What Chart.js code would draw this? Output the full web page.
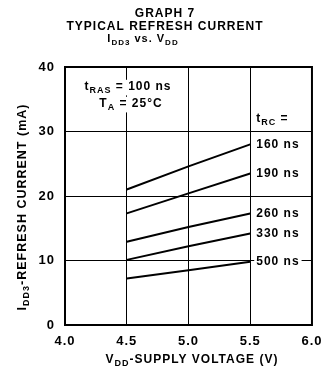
<!DOCTYPE html>
<html>
<head>
<meta charset="utf-8">
<script src="https://cdn.jsdelivr.net/npm/chart.js@4.4.0/dist/chart.umd.min.js"></script>
<style>
  html, body { margin: 0; padding: 0; background: #fff; }
  #wrap { width: 330px; height: 376px; }
</style>
</head>
<body>
<div id="wrap"><canvas id="c"></canvas></div>
<script>
// supply voltage (V)
var voltage = [4.5, 5.0, 5.5];
// refresh current (mA) per tRC
var trcLabels = ['160 ns', '190 ns', '260 ns', '330 ns', '500 ns'];
var i160 = [21.0, 24.6, 28.0];
var i190 = [17.3, 20.4, 23.5];
var i260 = [12.9, 15.2, 17.3];
var i330 = [10.1, 12.2, 14.2];
var i500 = [7.2, 8.5, 9.8];
var series = [i160, i190, i260, i330, i500];

var FONT = '"Liberation Sans", Arial, Helvetica, sans-serif';

// draws text with subscript parts: parts = [[text, isSub], ...]
function richWidth(ctx, parts, size) {
  var w = 0;
  parts.forEach(function (p) {
    ctx.font = 'bold ' + (p[1] ? Math.round(size * 0.72) : size) + 'px ' + FONT;
    w += ctx.measureText(p[0]).width;
  });
  return w;
}
function drawRich(ctx, parts, x, y, align, size) {
  var w = richWidth(ctx, parts, size);
  var sx = align === 'center' ? x - w / 2 : (align === 'right' ? x - w : x);
  ctx.textBaseline = 'middle';
  ctx.textAlign = 'left';
  parts.forEach(function (p) {
    var sz = p[1] ? Math.round(size * 0.72) : size;
    ctx.font = 'bold ' + sz + 'px ' + FONT;
    ctx.fillText(p[0], sx, p[1] ? y + size * 0.3 : y);
    sx += ctx.measureText(p[0]).width;
  });
  return w;
}
function boxed(ctx, parts, x, y, align, size) {
  var w = richWidth(ctx, parts, size);
  var sx = align === 'center' ? x - w / 2 : (align === 'right' ? x - w : x);
  ctx.fillStyle = '#fff';
  ctx.fillRect(sx - 2, y - size * 0.6, w + 4, size * 1.3);
  ctx.fillStyle = '#000';
  drawRich(ctx, parts, x, y, align, size);
}

var decor = {
  id: 'decor',
  beforeDraw: function (chart) {
    chart.ctx.letterSpacing = '1px';
  },
  afterDraw: function (chart) {
    var ctx = chart.ctx, a = chart.chartArea;
    var xs = chart.scales.x, ys = chart.scales.y;
    ctx.save();
    ctx.letterSpacing = '1px';
    // frame
    ctx.strokeStyle = '#000';
    ctx.lineWidth = 2;
    ctx.strokeRect(a.left, a.top, a.right - a.left, a.bottom - a.top);
    ctx.fillStyle = '#000';

    // titles
    drawRich(ctx, [['GRAPH 7', 0]], 165, 14, 'center', 12);
    drawRich(ctx, [['TYPICAL REFRESH CURRENT', 0]], 165, 27, 'center', 12);
    drawRich(ctx, [['I', 0], ['DD3', 1], [' vs. V', 0], ['DD', 1]], 143, 39, 'center', 11);

    // axis titles
    drawRich(ctx, [['V', 0], ['DD', 1], ['-SUPPLY VOLTAGE (V)', 0]], 192, 360, 'center', 12);
    ctx.save();
    ctx.translate(23, 207);
    ctx.rotate(-Math.PI / 2);
    drawRich(ctx, [['I', 0], ['DD3', 1], ['-REFRESH CURRENT (mA)', 0]], 0, 0, 'center', 12.5);
    ctx.restore();

    // conditions
    boxed(ctx, [['t', 0], ['RAS', 1], [' = 100 ns', 0]], 128, 87, 'center', 12);
    boxed(ctx, [['T', 0], ['A', 1], [' = 25\u00b0C', 0]], 131, 104, 'center', 12);

    // tRC labels at line ends
    var lx = xs.getPixelForValue(voltage[voltage.length - 1]) + 6;
    boxed(ctx, [['t', 0], ['RC', 1], [' =', 0]], lx, 119, 'left', 12);
    series.forEach(function (s, i) {
      var py = ys.getPixelForValue(s[s.length - 1]);
      boxed(ctx, [[trcLabels[i], 0]], lx, py, 'left', 12);
    });
    ctx.restore();
  }
};

var datasets = series.map(function (s, i) {
  return {
    label: trcLabels[i],
    data: voltage.map(function (v, j) { return { x: v, y: s[j] }; }),
    borderColor: '#000',
    borderWidth: 2,
    pointRadius: 0,
    fill: false,
    tension: 0
  };
});

new Chart(document.getElementById('c').getContext('2d'), {
  type: 'line',
  data: { datasets: datasets },
  options: {
    responsive: true,
    maintainAspectRatio: false,
    animation: false,
    devicePixelRatio: 1,
    events: [],
    layout: { padding: { top: 67, right: 9, left: 0, bottom: 0 } },
    plugins: { legend: { display: false }, tooltip: { enabled: false } },
    scales: {
      x: {
        type: 'linear',
        min: 4, max: 6,
        afterFit: function (s) { s.height = 51; },
        ticks: {
          stepSize: 0.5,
          color: '#000',
          padding: 9,
          maxRotation: 0,
          font: { family: FONT, size: 13, weight: 'bold' },
          callback: function (v) { return v.toFixed(1); }
        },
        grid: { color: '#000', lineWidth: 1, drawTicks: false },
        border: { display: false }
      },
      y: {
        min: 0, max: 40,
        afterFit: function (s) { s.width = 65; },
        ticks: {
          stepSize: 10,
          color: '#000',
          padding: 10,
          font: { family: FONT, size: 13, weight: 'bold' }
        },
        grid: { color: '#000', lineWidth: 1, drawTicks: false },
        border: { display: false }
      }
    }
  },
  plugins: [decor]
});
</script>
</body>
</html>
